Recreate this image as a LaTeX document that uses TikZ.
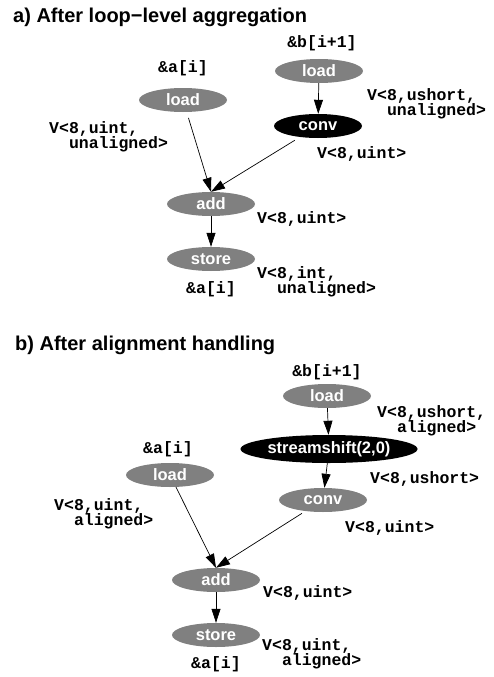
\documentclass[tikz,border=0pt]{standalone}
\usepackage{fontspec}
\setmainfont{Liberation Sans}
\setmonofont{Liberation Mono}
\usetikzlibrary{arrows.meta,shapes.geometric}

\begin{document}
\begin{tikzpicture}[
  x=1pt,y=-1pt,
  op/.style={ellipse,fill=black!50,text=white,inner sep=0pt,
    font=\fontsize{16.5}{16.5}\selectfont\bfseries,minimum width=88pt,minimum height=24pt},
  opk/.style={op,fill=black},
  lbl/.style={font=\fontsize{16.5}{15}\selectfont\ttfamily\bfseries,align=left,inner sep=0pt,anchor=base west},
  adr/.style={lbl,anchor=base},
  ttl/.style={font=\fontsize{20}{20}\selectfont\bfseries,inner sep=0pt,anchor=base west},
  ed/.style={draw,black,line width=0.7pt,-{Triangle[length=14pt,width=9pt]}}]

\useasboundingbox (0,0) rectangle (493,677);

% ---- panel (a): after loop-level aggregation ----
\begin{scope}
  \node[ttl] (ta) at (13,23) {a) After loop−level aggregation};
  \node[adr] (pb) at (322,48) {\&b[i+1]};
  \node[op]  (ldb) at (319,71)  {load};
  \node[opk] (cv)  at (318,126) {conv};
  \node[adr] (pa) at (183,73) {\&a[i]};
  \node[op]  (lda) at (183,100) {load};
  \node[op]  (add) at (211,204) {add};
  \node[op]  (st)  at (211,259) {store};
  \node[adr] (ps) at (211,293) {\&a[i]};
  % two-line labels sit on their last line
  \node[lbl] (tb) at (367,115) {V<8,ushort,\\~~unaligned>};
  \node[lbl] (tl) at (49,148)  {V<8,uint,\\~~unaligned>};
  \node[lbl] (tc) at (317,158) {V<8,uint>};
  \node[lbl] (td) at (257,223) {V<8,uint>};
  \node[lbl] (te) at (257,293) {V<8,int,\\~~unaligned>};
  \foreach \s/\t in {ldb/cv,add/st} \draw[ed] (\s)--(\t);
  \draw[ed,shorten <=6pt] (lda)--(add.north);
  \draw[ed,shorten <=6pt] (cv)--(add.north);
\end{scope}

% ---- panel (b): after alignment handling ----
\begin{scope}
  \node[ttl] (tb2) at (15,350) {b) After alignment handling};
  \node[adr] (pb2) at (327,376) {\&b[i+1]};
  \node[op]  (ldb2) at (327,396) {load};
  \node[opk,minimum width=177pt,minimum height=28pt] (ss2) at (329,449) {streamshift(2,0)};
  \node[op]  (cv2)  at (323,500) {conv};
  \node[adr] (pa2) at (168,453) {\&a[i]};
  \node[op]  (lda2) at (170,475) {load};
  \node[op]  (add2) at (216,580) {add};
  \node[op]  (st2)  at (216,635) {store};
  \node[adr] (ps2) at (216,668) {\&a[i]};
  \node[lbl] (tb3) at (377,432) {V<8,ushort,\\~~aligned>};
  \node[lbl] (tc2) at (370,483) {V<8,ushort>};
  \node[lbl] (tl2) at (54,525)  {V<8,uint,\\~~aligned>};
  \node[lbl] (td2) at (345,532) {V<8,uint>};
  \node[lbl] (te2) at (263,597) {V<8,uint>};
  \node[lbl] (tf2) at (262,665) {V<8,uint,\\~~aligned>};
  \foreach \s/\t in {ldb2/ss2,ss2/cv2,add2/st2} \draw[ed] (\s)--(\t);
  \draw[ed] (lda2)--(add2.north);
  \draw[ed,shorten <=4pt] (cv2)--(add2.north);
\end{scope}
\end{tikzpicture}
\end{document}
